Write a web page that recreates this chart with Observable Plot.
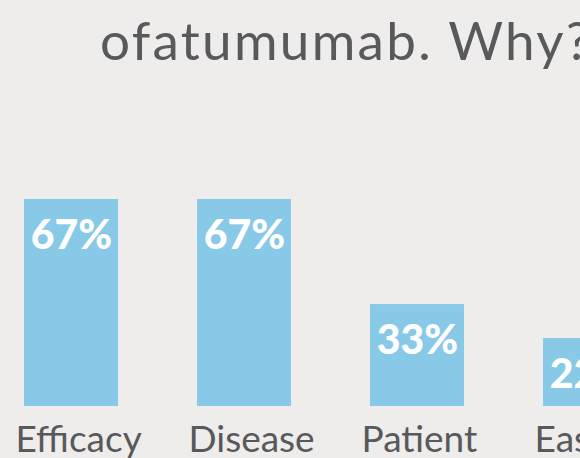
<!DOCTYPE html>
<html>
<head>
<meta charset="utf-8">
<script src="https://cdn.jsdelivr.net/npm/d3@7"></script>
<script src="https://cdn.jsdelivr.net/npm/@observablehq/plot@0.6"></script>
<style>
  html, body { margin: 0; padding: 0; background: #efecec; overflow: hidden; }
  #wrap { position: relative; width: 580px; height: 458px; overflow: hidden; background: #efecec; }
  #title { position: absolute; left: 100px; top: 13px; white-space: nowrap;
           font-family: Lato, sans-serif; font-size: 53px; letter-spacing: 2.3px; color: #58595b; line-height: 1; }
  #chart { position: absolute; left: 0; top: 0; width: 700px; }
  #chart svg { max-width: none !important; }
</style>
</head>
<body>
<div id="wrap">
  <div id="chart"></div>
  <div id="title">ofatumumab. Why?</div>
</div>
<script>
const categories = ["Efficacy", "Disease", "Patient", "Ease"];
const values = [67, 67, 33, 22];
const valueLabels = ["67%", "67%", "33%", "22%"];

const data = categories.map((c, i) => ({ category: c, value: values[i], label: valueLabels[i] }));

const chart = Plot.plot({
  width: 700,
  height: 458,
  margin: 0,
  style: { background: "transparent", overflow: "visible", maxWidth: "none" },
  x: { domain: categories, range: [-16.75, 677.25], paddingInner: 0.4582, paddingOuter: 0.229, axis: null },
  y: { domain: [0, 100], range: [406, 97], axis: null },
  marks: [
    Plot.barY(data, { x: "category", y: "value", fill: "#89c9e8" }),
    Plot.text(data, { x: "category", y: "value", text: "label", fill: "white",
      fontFamily: "Lato, sans-serif", fontWeight: 900, fontSize: 41,
      textAnchor: "middle", lineAnchor: "top", dy: 20 }),
    Plot.text(data, { x: "category", text: "category", frameAnchor: "bottom",
      fontFamily: "Lato, sans-serif", fontSize: 37, fill: "#58595b",
      textAnchor: "start", lineAnchor: "bottom", dx: -56, dy: -7 })
  ]
});
document.getElementById("chart").appendChild(chart);
</script>
</body>
</html>
